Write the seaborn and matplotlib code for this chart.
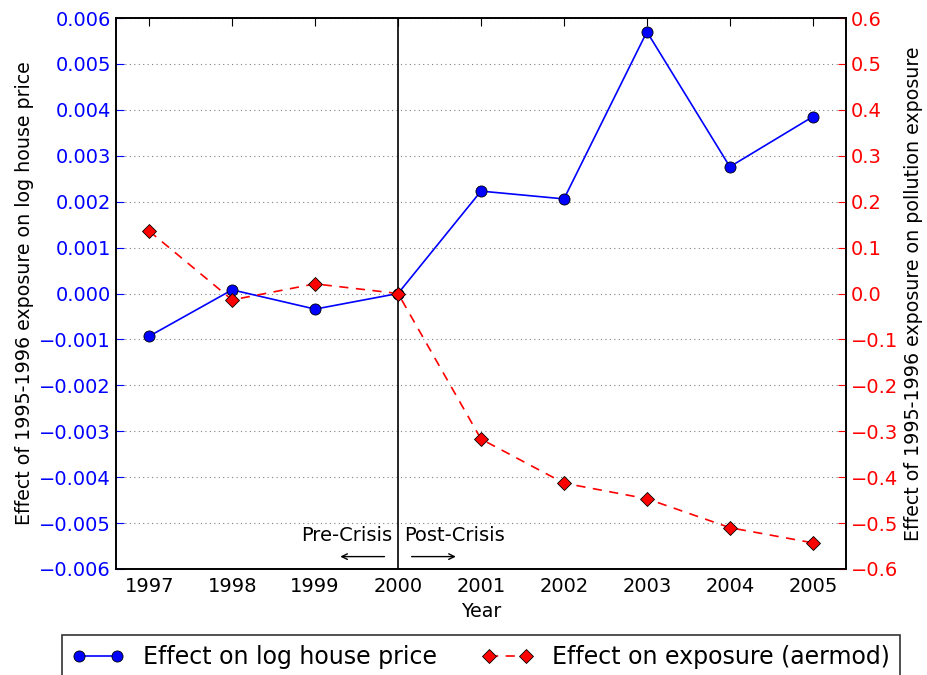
import matplotlib
matplotlib.use("Agg")
import matplotlib.pyplot as plt
import seaborn as sns
import pandas as pd
import numpy as np

years = [1997, 1998, 1999, 2000, 2001, 2002, 2003, 2004, 2005]
house_price = [-0.00093, 0.00008, -0.00034, 0.0, 0.00223, 0.00206, 0.0057, 0.00276, 0.00385]
exposure = [0.136, -0.014, 0.021, 0.0, -0.317, -0.413, -0.447, -0.51, -0.543]
left_ticks = [-0.006, -0.005, -0.004, -0.003, -0.002, -0.001, 0.0, 0.001, 0.002, 0.003, 0.004, 0.005, 0.006]
right_ticks = [-0.6, -0.5, -0.4, -0.3, -0.2, -0.1, 0.0, 0.1, 0.2, 0.3, 0.4, 0.5, 0.6]

sns.set_style("white")
plt.rcParams['font.family'] = ['DejaVu Sans']
plt.rcParams['text.color'] = 'black'
plt.rcParams['axes.labelcolor'] = 'black'

df = pd.DataFrame({"Year": years, "house": house_price, "exposure": exposure})

fig = plt.figure(figsize=(9.27, 6.75), dpi=100)
ax = fig.add_axes([116/927, 1 - 569/675, (846-116)/927, (569-18)/675])
ax2 = ax.twinx()

sns.lineplot(data=df, x="Year", y="house", ax=ax, color="blue", marker="o",
             markersize=8, markeredgecolor="black", markeredgewidth=0.6,
             linewidth=1.2, label="Effect on log house price", legend=False)
sns.lineplot(data=df, x="Year", y="exposure", ax=ax2, color="red", marker="D",
             markersize=7, markeredgecolor="black", markeredgewidth=0.6,
             linewidth=1.2, label="Effect on exposure (aermod)", legend=False)
for ln in ax2.get_lines():
    ln.set_dashes((5.5, 4.5))

ax.set_xlim(1996.6, 2005.4)
ax.set_ylim(-0.006, 0.006)
ax2.set_ylim(-0.6, 0.6)
ax.set_xticks(years)
ax.set_xticklabels([str(y) for y in years])
ax.set_yticks(left_ticks)
ax.set_yticklabels([f"{t:.3f}".replace("-", "\u2212") for t in left_ticks])
ax2.set_yticks(right_ticks)
ax2.set_yticklabels([f"{t:.1f}".replace("-", "\u2212") for t in right_ticks])

ax.yaxis.grid(True, linestyle=(0, (1, 3)), color="gray", linewidth=0.8)
ax.set_axisbelow(True)

ax.tick_params(axis="x", direction="in", top=True, length=6, labelsize=14, pad=6, colors="black")
ax.tick_params(axis="y", direction="in", length=6, labelsize=14, colors="blue", labelcolor="blue")
ax2.tick_params(axis="y", direction="in", length=6, labelsize=14, colors="red", labelcolor="red")
for a in (ax, ax2):
    for s in a.spines.values():
        s.set_color("black")
        s.set_linewidth(1.2)

ax.set_xlabel("Year", fontsize=13.7)
ax.set_ylabel("Effect of 1995-1996 exposure on log house price", fontsize=13.7, labelpad=4)
ax2.set_ylabel("Effect of 1995-1996 exposure on pollution exposure", fontsize=13.7, labelpad=4)

ax.axvline(2000, color="black", linewidth=1.2)
ax.text(1999.93, -0.00528, "Pre-Crisis", ha="right", va="center", fontsize=14)
ax.text(2000.07, -0.00528, "Post-Crisis", ha="left", va="center", fontsize=14)
ax.annotate("", xy=(1999.27, -0.00573), xytext=(1999.87, -0.00573),
            arrowprops=dict(arrowstyle="->", color="black", lw=1))
ax.annotate("", xy=(2000.73, -0.00573), xytext=(2000.13, -0.00573),
            arrowprops=dict(arrowstyle="->", color="black", lw=1))

h1, l1 = ax.get_legend_handles_labels()
h2, l2 = ax2.get_legend_handles_labels()
leg = fig.legend(h1 + h2, l1 + l2, loc="lower center", bbox_to_anchor=(0.519, -0.005),
                 ncol=2, fontsize=17, frameon=True, fancybox=False, edgecolor="black",
                 numpoints=2, columnspacing=1.9, handlelength=2.2, borderaxespad=0)
leg.get_frame().set_linewidth(1.2)

fig.savefig("out.png", dpi=100)
